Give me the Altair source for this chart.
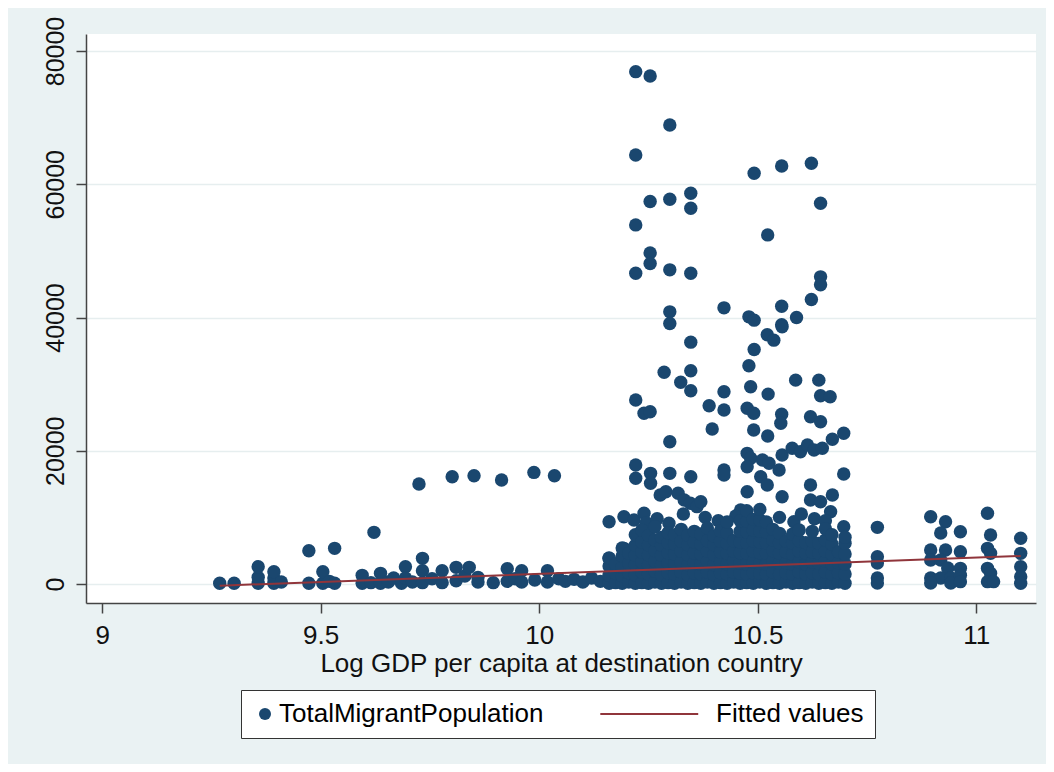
import altair as alt
import pandas as pd

NAVY = "#1a476f"
MAROON = "#90353b"
BG = "#eaf2f3"
FONT = "Liberation Sans"

# ---- data ----
# scattered points (log GDP per capita, total migrant population)
sparse_x = [
    9.269, 9.302, 9.357, 9.357, 9.357, 9.393, 9.393, 9.393, 9.410,
    9.473, 9.473, 9.505, 9.505, 9.520, 9.532, 9.532,
    9.595, 9.595, 9.615, 9.622, 9.637, 9.637, 9.655, 9.667,
    9.685, 9.694, 9.694, 9.710, 9.725, 9.733, 9.733, 9.733, 9.755, 9.778, 9.778,
    9.801, 9.810, 9.810, 9.830, 9.840, 9.851, 9.860, 9.860,
    9.895, 9.914, 9.927, 9.927, 9.945, 9.960, 9.960, 9.988, 9.990,
    10.019, 10.019, 10.035, 10.045, 10.060, 10.080, 10.100, 10.120, 10.140,
    10.221, 10.254, 10.299, 10.221, 10.492, 10.555, 10.623,
    10.347, 10.347, 10.299, 10.254, 10.221, 10.644, 10.523,
    10.254, 10.254, 10.221, 10.299, 10.347, 10.644, 10.644,
    10.623, 10.555, 10.589, 10.555, 10.423, 10.480, 10.492, 10.299, 10.299,
    10.347, 10.492, 10.522, 10.537, 10.556,
    10.480, 10.286, 10.347, 10.324, 10.347, 10.484, 10.524, 10.587, 10.640, 10.644, 10.666,
    10.423, 10.423, 10.389, 10.396, 10.221, 10.240, 10.254,
    10.476, 10.491, 10.491, 10.523, 10.555, 10.553, 10.621, 10.644, 10.697, 10.671, 10.299,
    10.556, 10.579, 10.598, 10.614, 10.629, 10.648,
    10.476, 10.484, 10.476, 10.511, 10.526, 10.549, 10.507, 10.522,
    10.423, 10.423, 10.221, 10.221, 10.255, 10.255, 10.299, 10.347, 10.697, 10.621, 10.556, 10.476,
    10.621, 10.644, 10.671,
    10.277, 10.290, 10.318, 10.332, 10.346, 10.361, 10.370,
    10.461, 10.160, 10.194, 10.217, 10.240, 10.297, 10.697, 10.667, 10.583, 10.194, 10.160,
    10.245, 10.270, 10.330, 10.380, 10.410, 10.450, 10.550, 10.600, 10.630, 10.655,
    10.774, 10.774, 10.774, 10.774, 10.774,
    10.896, 10.930, 10.919, 10.896, 10.930, 10.896, 10.919, 10.935, 10.896, 10.919, 10.942, 10.896, 10.942,
    10.964, 10.964, 10.964, 10.964, 10.964,
    11.026, 11.033, 11.026, 11.033, 11.026, 11.033, 11.026, 11.040,
    11.102, 11.102, 11.102, 11.102, 11.102,
]
sparse_y = [
    100, 100, 100, 1000, 2600, 100, 900, 1850, 300,
    100, 5000, 100, 1850, 400, 100, 5350,
    100, 1300, 200, 7750, 100, 1600, 300, 900,
    100, 2600, 900, 300, 15000, 3850, 2000, 200, 800, 2000, 200,
    16100, 2500, 500, 1200, 2500, 16250, 300, 1000,
    200, 15600, 2300, 400, 800, 2000, 300, 16750, 600,
    2000, 300, 16250, 800, 400, 700, 300, 900, 400,
    76900, 76250, 68900, 64400, 61650, 62750, 63150,
    58650, 56400, 57750, 57400, 53900, 57150, 52400,
    49700, 48100, 46650, 47150, 46650, 46100, 44900,
    42700, 41700, 40000, 38900, 41450, 40100, 39600, 40850, 39100,
    36300, 35200, 37400, 36600, 38600,
    32770, 31770, 32000, 30270, 29010, 29600, 28500, 30600, 30600, 28260, 28110,
    28860, 26120, 26760, 23260, 27620, 25620, 25860,
    26370, 25620, 23110, 22210, 25470, 24120, 25110, 24360, 22620, 21720, 21360,
    19360, 20370, 19860, 20860, 20110, 20370,
    19610, 18870, 17610, 18610, 18120, 17110, 16100, 14860,
    17110, 16360, 17860, 15860, 16610, 15110, 16610, 16100, 16510, 14860, 13100, 13850,
    12610, 12350, 13360,
    13360, 13850, 13610, 12610, 12110, 11610, 12350,
    11110, 9350, 10100, 9600, 10610, 9110, 8600, 10850, 9350, 5350, 3850,
    9200, 9800, 10500, 10000, 9500, 10200, 10000, 10500, 9800, 9500,
    8500, 4100, 3150, 900, 150,
    10100, 9350, 7650, 5100, 5100, 3600, 3600, 2400, 900, 900, 900, 150, 150,
    7850, 4850, 2350, 1300, 350,
    10610, 7350, 5350, 4600, 2350, 1600, 350, 350,
    6860, 4600, 2600, 1100, 100,
]

# dense block of overlapping markers, one column per x value
dense_x = [
    10.160, 10.175, 10.190, 10.205, 10.220, 10.235, 10.250, 10.265, 10.280, 10.295,
    10.310, 10.325, 10.340, 10.355, 10.370, 10.385, 10.400, 10.415, 10.430, 10.445,
    10.460, 10.475, 10.490, 10.505, 10.520, 10.535, 10.550, 10.565, 10.580, 10.595,
    10.610, 10.625, 10.640, 10.655, 10.670, 10.685, 10.700,
]
dense_y = [
    [100, 1300, 2700, 3900], [200, 1600, 3000], [100, 1200, 2500, 4200, 5400],
    [300, 1700, 3100, 4600], [100, 1400, 2900, 4300, 5800, 7400],
    [200, 1800, 3300, 4800, 6300, 8100], [100, 1500, 2900, 4400, 5900, 7300],
    [300, 1900, 3400, 5000, 6600, 8600], [100, 1400, 2800, 4300, 5800, 7000],
    [200, 1700, 3200, 4700, 6200, 7700], [100, 1500, 3000, 4500, 6000, 7400],
    [300, 1800, 3300, 4900, 6400, 8200], [100, 1400, 2900, 4400, 5900, 7300],
    [200, 1700, 3200, 4700, 6300, 7900], [100, 1500, 3000, 4500, 6000, 7500],
    [300, 1800, 3400, 4900, 6500, 8400], [100, 1400, 2900, 4400, 5900, 7200],
    [200, 1700, 3300, 4800, 6400, 8000], [100, 1500, 3000, 4600, 6100, 7700, 9300],
    [300, 1800, 3400, 4900, 6500], [100, 1600, 3100, 4700, 6300, 7900, 9500],
    [200, 1500, 3000, 4600, 6200, 7800, 9400, 11000], [100, 1700, 3300, 4900, 6500, 8100, 9700],
    [300, 1600, 3100, 4700, 6300, 7900, 9600, 11200], [100, 1500, 3000, 4600, 6200, 7800, 9300],
    [200, 1800, 3400, 5000, 6600, 8200], [100, 1500, 3100, 4600, 6200, 7600],
    [300, 1700, 3200, 4800, 6400], [100, 1500, 3000, 4500, 6100, 7500],
    [200, 1800, 3300, 4900, 6500, 8100], [100, 1500, 3000, 4600, 6200],
    [300, 1700, 3300, 4800, 6400, 7900], [100, 1500, 3100, 4600, 6100],
    [200, 1800, 3400, 4900, 6600, 8300], [100, 1500, 3000, 4500, 6000, 7400],
    [300, 1700, 3200, 4800], [100, 1500, 3000, 4500, 6100, 7000],
]

# fitted regression line (end points)
fit_x = [9.269, 11.102]
fit_y = [-250, 4200]

series_names = ["TotalMigrantPopulation", "Fitted values"]
x_ticks = [9, 9.5, 10, 10.5, 11]
y_ticks = [0, 20000, 40000, 60000, 80000]

# ---- tables ----
px, py = list(sparse_x), list(sparse_y)
for xv, ys in zip(dense_x, dense_y):
    for yv in ys:
        px.append(xv)
        py.append(yv)
points = pd.DataFrame({"x": px, "y": py, "series": series_names[0]})
fitted = pd.DataFrame({"x": fit_x, "y": fit_y, "series": series_names[1]})

x_scale = alt.Scale(domain=[8.963, 11.137], nice=False, zero=False)
y_scale = alt.Scale(domain=[-2852, 82552], nice=False, zero=False)
color_scale = alt.Scale(domain=series_names, range=[NAVY, MAROON])
shape_scale = alt.Scale(
    domain=series_names,
    range=["circle", "M-16.95,-0.17L-0.63,-0.17L-0.63,0.17L-16.95,0.17Z"],
)

legend = alt.Legend(
    title=None, orient="none", legendX=155, legendY=656, direction="horizontal",
    symbolSize=144, symbolStrokeWidth=0, symbolOpacity=1,
    labelFont=FONT, labelFontSize=26, labelColor="#000", labelOffset=1, labelLimit=0,
    columnPadding=56, padding=11, strokeColor="#333", fillColor="white", cornerRadius=0,
)

x_axis = alt.Axis(
    values=x_ticks, format="~g", title="Log GDP per capita at destination country",
    grid=False, tickSize=10, labelPadding=9, titlePadding=2, labelFontSize=26,
)
y_axis = alt.Axis(
    values=y_ticks, format="d", title=None, grid=True, tickSize=10, labelFontSize=25,
    labelAngle=270, labelAlign="center", labelBaseline="bottom", labelPadding=8,
)

pts_layer = alt.Chart(points).mark_point(filled=True, size=180, opacity=1, strokeWidth=0).encode(
    x=alt.X("x:Q", scale=x_scale, axis=x_axis),
    y=alt.Y("y:Q", scale=y_scale, axis=y_axis),
    color=alt.Color("series:N", scale=color_scale, legend=legend, sort=series_names),
    shape=alt.Shape("series:N", scale=shape_scale, legend=legend, sort=series_names),
)

fit_layer = alt.Chart(fitted).mark_line(strokeWidth=2).encode(
    x=alt.X("x:Q", scale=x_scale),
    y=alt.Y("y:Q", scale=y_scale),
    color=alt.Color("series:N", scale=color_scale, legend=legend, sort=series_names),
)

chart = alt.layer(pts_layer, fit_layer).properties(
    width=950, height=569,
    autosize=alt.AutoSizeParams(type="none"),
    padding={"left": 78, "top": 26, "right": 10, "bottom": 161},
    background=BG,
).configure_view(
    fill="white", stroke=None,
).configure_axis(
    labelFont=FONT, labelColor="#111",
    titleFont=FONT, titleFontSize=26, titleFontWeight="normal", titleColor="#111",
    domainColor="#444", domainWidth=1.5, tickColor="#444", tickWidth=1.5,
    gridColor="#e6eeef", gridWidth=1.5,
)

chart.save("out.html", embed_options={"renderer": "svg", "actions": False})
